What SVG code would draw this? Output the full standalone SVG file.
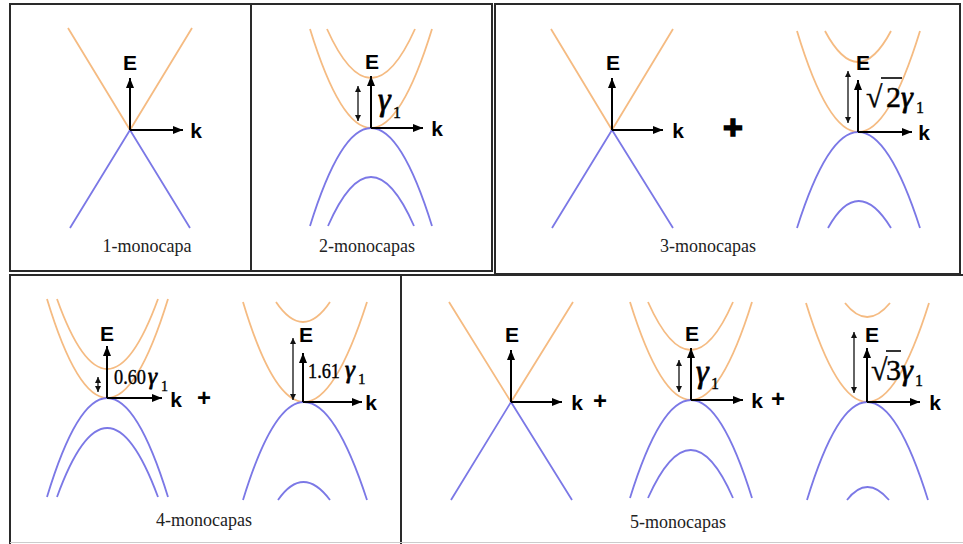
<svg xmlns="http://www.w3.org/2000/svg" width="963" height="544" viewBox="0 0 963 544">
<style>
.frame{fill:none;stroke:#2a2a2a;stroke-width:2}
.or{fill:none;stroke:#F5BB82;stroke-width:1.8}
.bl{fill:none;stroke:#7B78E6;stroke-width:1.8}
.ax{stroke:#000;stroke-width:2;marker-end:url(#ah)}
.dbl{stroke:#111;stroke-width:1.3;marker-start:url(#as);marker-end:url(#as)}
.lbl{font-family:"Liberation Sans",Arial,sans-serif;font-size:21px;font-weight:bold;fill:#000;text-anchor:middle}
.cap{font-family:"Liberation Serif","Times New Roman",serif;font-size:18px;fill:#222;text-anchor:middle}
.math{font-family:"Liberation Serif","Times New Roman",serif;fill:#000;stroke:#000;stroke-width:0.4}
.g{font-style:italic;stroke-width:0.8}
.plus{font-family:"Liberation Sans",Arial,sans-serif;font-weight:bold;fill:#000;text-anchor:middle}
</style>
<defs>
<marker id="ah" markerWidth="10" markerHeight="8" refX="10" refY="4" orient="auto" markerUnits="userSpaceOnUse"><path d="M0,0 L10,4 L0,8 z" fill="#000"/></marker>
<marker id="as" markerWidth="6" markerHeight="6" refX="6" refY="3" orient="auto-start-reverse" markerUnits="userSpaceOnUse"><path d="M0,0 L6,3 L0,6 z" fill="#111"/></marker>
</defs>
<rect width="963" height="544" fill="#fff"/>

<g id="frames">
<path class="frame" d="M10,4 H251 V271 H10 Z"/>
<path class="frame" d="M251,4 H492 V271 H251"/>
<path class="frame" d="M495,4 H960 V274 H495 Z"/>
<path class="frame" d="M10,544 V275 H401 V544"/>
<path class="frame" d="M401,275 H963"/>
<line x1="10" y1="542.5" x2="963" y2="542.5" stroke="#ccc" stroke-width="1"/>
</g>

<g id="panel1">
<path class="or" d="M68,28 L130,130 L192,28"/>
<path class="bl" d="M70,228 L130,130 L190,228"/>
<text class="lbl" x="130" y="70">E</text>
<text class="lbl" x="196" y="138">k</text>
<text class="cap" x="147" y="252">1-monocapa</text>
</g>

<g id="panel2">
<path class="or" d="M310,29 Q371,227 432,29"/>
<path class="or" d="M327,29 Q371,127 415,29"/>
<path class="bl" d="M310,226 Q371,30 432,226"/>
<path class="bl" d="M328,226 Q371,128 414,226"/>
<text class="lbl" x="372" y="69">E</text>
<text class="lbl" x="437" y="136">k</text>
<text class="math g" x="378" y="110" font-size="32">γ</text>
<text class="math" x="393" y="118" font-size="16">1</text>
<text class="cap" x="367" y="252">2-monocapas</text>
</g>

<g id="panel3">
<path class="or" d="M551,29 L612,130 L673,29"/>
<path class="bl" d="M552,228 L612,130 L673,228"/>
<text class="lbl" x="613" y="70">E</text>
<text class="lbl" x="678" y="138">k</text>
<text class="plus" x="733" y="139" font-size="34" stroke="#000" stroke-width="1.5">+</text>
<path class="or" d="M797,31 Q858,233 920,31"/>
<path class="or" d="M825,31 Q858,93 891,31"/>
<path class="bl" d="M797,228 Q858,36 920,228"/>
<path class="bl" d="M828,228 Q858,174 891,228"/>
<text class="lbl" x="863" y="70">E</text>
<text class="lbl" x="924" y="140">k</text>
<text class="math" x="866" y="107" font-size="30">√</text>
<line x1="881" y1="78" x2="902" y2="78" stroke="#000" stroke-width="1.6"/>
<text class="math" x="886" y="107" font-size="30">2</text>
<text class="math g" x="901" y="107" font-size="30">γ</text>
<text class="math" x="916" y="113" font-size="16">1</text>
<text class="cap" x="708" y="252">3-monocapas</text>
</g>

<g id="panel4">
<path class="or" d="M47,299 Q107,497 168,299"/>
<path class="or" d="M57,299 Q107,439 158,299"/>
<path class="bl" d="M47,497 Q107,299 168,497"/>
<path class="bl" d="M57,497 Q107,359 158,497"/>
<text class="lbl" x="107" y="341">E</text>
<text class="math" x="114" y="384" font-size="20" textLength="32" lengthAdjust="spacingAndGlyphs">0.60</text>
<text class="math g" x="148" y="384" font-size="23">γ</text>
<text class="math" x="161" y="391" font-size="14">1</text>
<text class="lbl" x="176" y="407">k</text>
<text class="plus" x="204" y="406" font-size="24">+</text>
<path class="or" d="M243,302 Q303,502 367,302"/>
<path class="or" d="M276,302 Q303,342 330,302"/>
<path class="bl" d="M243,500 Q303,304 367,500"/>
<path class="bl" d="M278,500 Q303,464 330,500"/>
<text class="lbl" x="306" y="342">E</text>
<text class="math" x="308" y="378" font-size="21" textLength="32" lengthAdjust="spacingAndGlyphs">1.61</text>
<text class="math g" x="345" y="378" font-size="25">γ</text>
<text class="math" x="358" y="384" font-size="15">1</text>
<text class="lbl" x="371" y="410">k</text>
<text class="cap" x="204" y="526">4-monocapas</text>
</g>

<g id="panel5">
<path class="or" d="M449,302 L511,402 L573,302"/>
<path class="bl" d="M451,500 L511,402 L572,500"/>
<text class="lbl" x="512" y="342">E</text>
<text class="lbl" x="577" y="410">k</text>
<text class="plus" x="600" y="409" font-size="24">+</text>
<path class="or" d="M630,302 Q691,498 752,302"/>
<path class="or" d="M648,302 Q691,398 733,302"/>
<path class="bl" d="M630,498 Q691,302 752,498"/>
<path class="bl" d="M648,498 Q691,402 733,498"/>
<text class="lbl" x="692" y="341">E</text>
<text class="math g" x="696" y="382" font-size="32">γ</text>
<text class="math" x="711" y="389" font-size="16">1</text>
<text class="lbl" x="757" y="408">k</text>
<text class="plus" x="778" y="407" font-size="24">+</text>
<path class="or" d="M806,303 Q867,501 929,303"/>
<path class="or" d="M845,303 Q867,331 890,303"/>
<path class="bl" d="M807,500 Q867,304 928,500"/>
<path class="bl" d="M847,500 Q867,474 889,500"/>
<text class="lbl" x="872" y="342">E</text>
<text class="math" x="871" y="380" font-size="30">√</text>
<line x1="886" y1="351" x2="901" y2="351" stroke="#000" stroke-width="1.6"/>
<text class="math" x="886" y="380" font-size="30">3</text>
<text class="math g" x="901" y="380" font-size="30">γ</text>
<text class="math" x="915" y="386" font-size="16">1</text>
<text class="lbl" x="935" y="410">k</text>
<text class="cap" x="678" y="528">5-monocapas</text>
</g>

<g id="connectors">
<line class="ax" x1="130" y1="130" x2="130" y2="78"/>
<line class="ax" x1="130" y1="130" x2="183" y2="130"/>
<line class="ax" x1="371" y1="128" x2="371" y2="76"/>
<line class="ax" x1="371" y1="128" x2="423" y2="128"/>
<line class="dbl" x1="358" y1="86" x2="358" y2="121"/>
<line class="ax" x1="612" y1="130" x2="612" y2="78"/>
<line class="ax" x1="612" y1="130" x2="663" y2="130"/>
<line class="ax" x1="858" y1="132" x2="858" y2="80"/>
<line class="ax" x1="858" y1="132" x2="912" y2="132"/>
<line class="dbl" x1="848" y1="71" x2="848" y2="123"/>
<line class="ax" x1="107" y1="398" x2="107" y2="346"/>
<line class="ax" x1="107" y1="398" x2="162" y2="398"/>
<line class="dbl" x1="98" y1="377" x2="98" y2="392"/>
<line class="ax" x1="303" y1="402" x2="303" y2="353"/>
<line class="ax" x1="303" y1="402" x2="362" y2="402"/>
<line class="dbl" x1="293" y1="338" x2="293" y2="400"/>
<line class="ax" x1="511" y1="402" x2="511" y2="350"/>
<line class="ax" x1="511" y1="402" x2="562" y2="402"/>
<line class="ax" x1="691" y1="400" x2="691" y2="348"/>
<line class="ax" x1="691" y1="400" x2="743" y2="400"/>
<line class="dbl" x1="679" y1="360" x2="679" y2="392"/>
<line class="ax" x1="867" y1="402" x2="867" y2="348"/>
<line class="ax" x1="867" y1="402" x2="920" y2="402"/>
<line class="dbl" x1="854" y1="332" x2="854" y2="393"/>
</g>
</svg>
